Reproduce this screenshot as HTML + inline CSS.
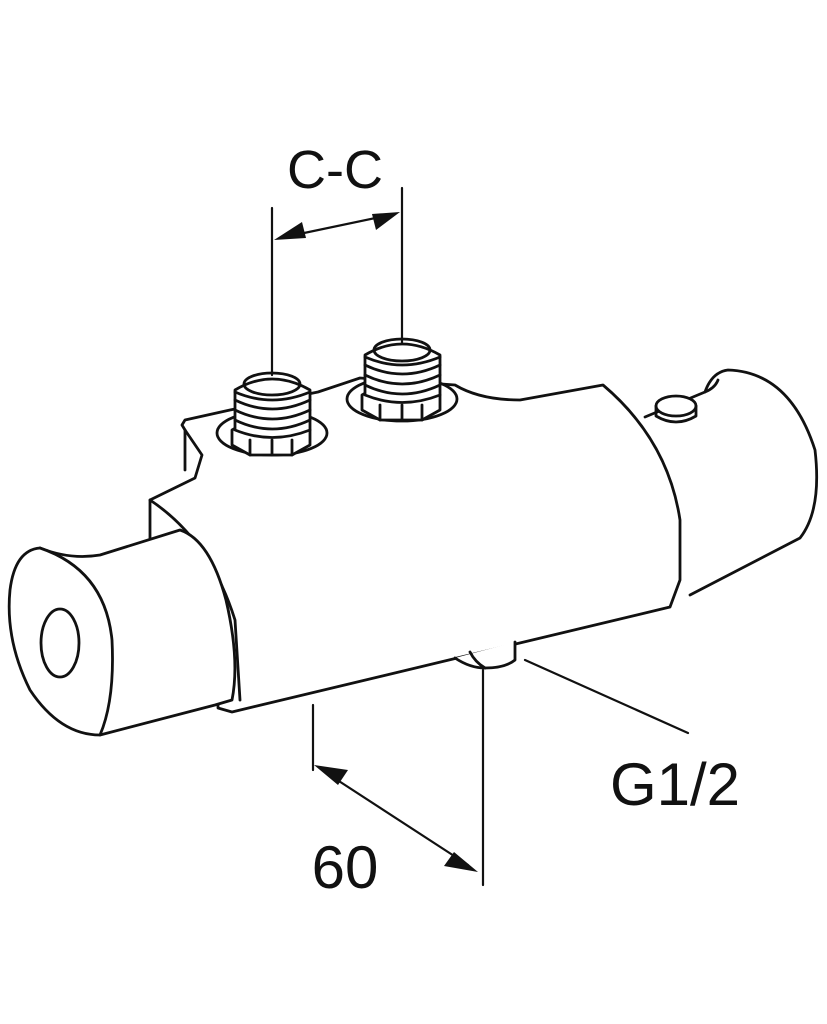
<!DOCTYPE html>
<html><head><style>body{margin:0;background:#fff}svg{display:block}</style></head><body>
<svg width="827" height="1024" viewBox="0 0 827 1024" xmlns="http://www.w3.org/2000/svg">
<g fill="none" stroke="#111" stroke-width="2.8" stroke-linejoin="round" stroke-linecap="round">
<!-- right cylinder -->
<path d="M645 417 L705 392 Q712 372 728 370 Q790 372 815 450 Q822 510 800 538 L690 595"/>
<path d="M705 392 Q715 388 718 380"/>
<ellipse cx="676" cy="406" rx="20" ry="10" fill="#fff"/>
<path d="M656 406 L656 416 Q676 428 696 416 L696 406"/>
<!-- body -->
<path d="M182 425 L185 420 L230 410 L318 392 L360 378 L455 385 Q480 400 520 400 L603 385 Q668 440 680 520 L680 580 L670 607 L232 712 L218 708 L218 680 L180 560 L150 545 L150 500 L195 478 L202 455 L185 430 Z" fill="#fff"/>
<path d="M150 500 Q210 540 235 620 L240 700"/>
<path d="M185 430 L185 470"/>
<!-- left cap -->
<path d="M40 548 Q70 560 100 555 L180 530 Q210 540 226 600 Q240 660 232 700 L215 705 L100 735" fill="#fff"/>
<path d="M40 548 Q15 550 10 590 Q5 640 30 690 Q60 735 100 735 Q115 700 112 640 Q105 570 40 548 Z" fill="#fff"/>
<ellipse cx="60" cy="643" rx="19" ry="34"/>
<!-- port 1 -->
<ellipse cx="272" cy="433" rx="55" ry="22" fill="#fff"/>
<path d="M232 430 L232 445 L250 455 L292 455 L310 445 L310 430 L292 420 L250 420 Z" fill="#fff"/>
<path d="M272 440 L272 455 M250 440 L250 455 M292 440 L292 455"/>
<path d="M235 430 L235 390 Q272 368 310 390 L310 430 Q272 445 235 430 Z" fill="#fff"/>
<path d="M235 400 Q272 418 310 400 M235 410 Q272 428 310 410 M235 420 Q272 438 310 420 M235 392 Q272 408 310 392"/>
<ellipse cx="272" cy="384" rx="28" ry="11"/>
<!-- port 2 -->
<ellipse cx="402" cy="399" rx="55" ry="22" fill="#fff"/>
<path d="M362 395 L362 410 L380 420 L422 420 L440 410 L440 395 L422 385 L380 385 Z" fill="#fff"/>
<path d="M402 405 L402 420 M380 405 L380 420 M422 405 L422 420"/>
<path d="M365 395 L365 355 Q402 333 440 355 L440 395 Q402 410 365 395 Z" fill="#fff"/>
<path d="M365 365 Q402 383 440 365 M365 375 Q402 393 440 375 M365 385 Q402 403 440 385 M365 357 Q402 373 440 357"/>
<ellipse cx="402" cy="350" rx="28" ry="11"/>
<!-- bottom nut -->
<path d="M455 658 Q470 668 485 668 Q505 668 515 660 L515 642" fill="#fff"/>
<path d="M470 652 Q475 662 485 668"/>
<!-- dimension lines -->
<g stroke-width="2.2">
<line x1="272" y1="208" x2="272" y2="375"/>
<line x1="402" y1="188" x2="402" y2="343"/>
<line x1="285" y1="237" x2="390" y2="215"/>
<line x1="313" y1="705" x2="313" y2="770"/>
<line x1="483" y1="670" x2="483" y2="885"/>
<line x1="325" y1="772" x2="468" y2="865"/>
<line x1="525" y1="660" x2="688" y2="733"/>
</g>
</g>
<g fill="#111">
<polygon points="274,240 302,222 306,238"/>
<polygon points="400,212 372,214 376,230"/>
<polygon points="314,765 348,770 338,785"/>
<polygon points="478,872 444,866 454,852"/>
</g>
<g font-family="Liberation Sans, sans-serif" fill="#111">
<text x="335" y="188" font-size="54" text-anchor="middle">C-C</text>
<text x="345" y="888" font-size="60" text-anchor="middle">60</text>
<text x="675" y="805" font-size="60" text-anchor="middle">G1/2</text>
</g>
</svg>
</body></html>
